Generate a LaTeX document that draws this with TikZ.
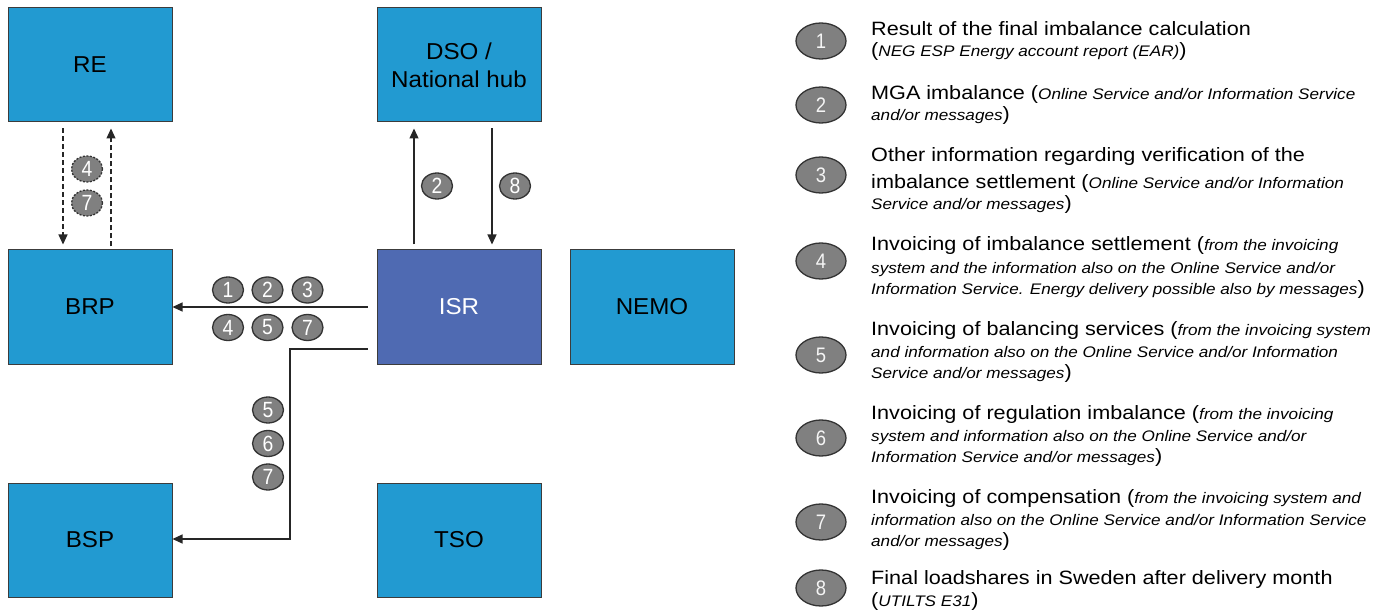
\documentclass[tikz,border=0pt]{standalone}
\usepackage{fontspec}
\setmainfont{Liberation Sans}
\newfontfamily\legfont[FakeStretch=1.12]{Liberation Sans}
\newfontfamily\boxfont[FakeStretch=1.05]{Liberation Sans}
\newfontfamily\digfont[FakeStretch=0.88]{Liberation Sans}
\usetikzlibrary{arrows.meta,shapes.geometric}
\definecolor{boxblue}{RGB}{34,154,209}
\definecolor{isrblue}{RGB}{79,106,178}
\definecolor{edgegray}{RGB}{60,60,60}
\definecolor{badgegray}{RGB}{128,128,128}
\newcommand{\LegMain}{\legfont\fontsize{19.3}{23}\selectfont}
\newcommand{\LegIt}[1]{{\legfont\fontsize{15.3}{18}\selectfont\itshape #1}}
\newcommand{\SmallDigit}{\digfont\fontsize{22}{22}\selectfont}
\newcommand{\BigDigit}{\digfont\fontsize{21}{21}\selectfont}
\tikzset{
  actor/.style={draw=edgegray, line width=1pt, fill=boxblue, minimum width=164pt, minimum height=114pt, inner sep=0pt, align=center, font=\boxfont\fontsize{23}{28}\selectfont},
  badge/.style={shape=ellipse, draw=black!80, line width=1.3pt, fill=badgegray, minimum width=31pt, minimum height=26pt, inner sep=0pt, text=white, node font=\SmallDigit, font=\SmallDigit},
  dbadge/.style={badge, dash pattern=on 2pt off 1.5pt},
  bigbadge/.style={shape=ellipse, draw=black!80, line width=1.3pt, fill=badgegray, minimum width=50pt, minimum height=36pt, inner sep=0pt, text=white!92!gray, node font=\BigDigit, font=\BigDigit},
  flow/.style={draw=black!85, line width=1.2pt, -{Triangle[length=10pt,width=9pt]}},
  dflow/.style={flow, dash pattern=on 5pt off 3pt},
  legline/.style={anchor=base west, inner sep=0pt, font=\LegMain},
}
\begin{document}
\begin{tikzpicture}[x=1pt, y=-1pt]
\useasboundingbox (0,0) rectangle (1391,612);
% actors
\node[actor] (re) at (90,65) {RE};
\node[actor] (dso) at (459,65) {DSO /\\National hub};
\node[actor] (brp) at (90,307) {BRP};
\node[actor, fill=isrblue, text=white] (isr) at (459,307) {ISR};
\node[actor] (nemo) at (652,307) {NEMO};
\node[actor] (bsp) at (90,540) {BSP};
\node[actor] (tso) at (459,540) {TSO};

% RE <-> BRP dashed
\draw[dflow, shorten <=6pt, shorten >=5pt] (re.south -| 63,0) -- (brp.north -| 63,0);
\draw[dflow, shorten <=3pt, shorten >=6pt] (brp.north -| 111,0) -- (re.south -| 111,0);
\node[dbadge] (b4re) at (87,169) {\SmallDigit 4};
\node[dbadge] (b7re) at (87,203) {\SmallDigit 7};

% ISR <-> DSO
\draw[flow, shorten <=5pt, shorten >=6pt] (isr.north -| 414,0) -- (dso.south -| 414,0);
\draw[flow, shorten <=6pt, shorten >=5pt] (dso.south -| 492,0) -- (isr.north -| 492,0);
\node[badge] (b2d) at (437,186) {\SmallDigit 2};
\node[badge] (b8d) at (515,186) {\SmallDigit 8};

% ISR -> BRP
\draw[flow, shorten <=9pt] (isr.west) -- (brp.east);
\node[badge] (r1) at (228,290) {\SmallDigit 1};
\node[badge] (r2) at (267.5,290) {\SmallDigit 2};
\node[badge] (r3) at (307.5,290) {\SmallDigit 3};
\node[badge] (r4) at (228,327.5) {\SmallDigit 4};
\node[badge] (r5) at (267.5,327.5) {\SmallDigit 5};
\node[badge] (r7) at (307.5,327.5) {\SmallDigit 7};

% ISR -> BSP
\coordinate (isrout) at ([xshift=-9pt]isr.west |- 0,349);
\coordinate (bend1) at (290,349);
\coordinate (bend2) at (290,539);
\draw[flow] (isrout) -- (bend1) -- (bend2) -- (bend2 -| bsp.east);
\node[badge] (v5) at (268,410) {\SmallDigit 5};
\node[badge] (v6) at (268,443.5) {\SmallDigit 6};
\node[badge] (v7) at (268,477) {\SmallDigit 7};

% legend
\node[bigbadge] (g1) at (821,41) {\BigDigit 1};
\node[bigbadge] (g2) at (821,105) {\BigDigit 2};
\node[bigbadge] (g3) at (821,175) {\BigDigit 3};
\node[bigbadge] (g4) at (821,261) {\BigDigit 4};
\node[bigbadge] (g5) at (821,355) {\BigDigit 5};
\node[bigbadge] (g6) at (821,438) {\BigDigit 6};
\node[bigbadge] (g7) at (821,522) {\BigDigit 7};
\node[bigbadge] (g8) at (821,588) {\BigDigit 8};

\node[legline] (t1a) at (871,35.5) {Result of the final imbalance calculation};
\node[legline] (t1b) at (871,57) {(\LegIt{NEG ESP Energy account report (EAR)})};

\node[legline] (t2a) at (871,99.5) {MGA imbalance (\LegIt{Online Service and/or Information Service}};
\node[legline] (t2b) at (871,121) {\LegIt{and/or messages})};

\node[legline] (t3a) at (871,161.5) {Other information regarding verification of the};
\node[legline] (t3b) at (871,188.5) {imbalance settlement (\LegIt{Online Service and/or Information}};
\node[legline] (t3c) at (871,210) {\LegIt{Service and/or messages})};

\node[legline] (t4a) at (871,250.5) {Invoicing of imbalance settlement (\LegIt{from the invoicing}};
\node[legline] (t4b) at (871,273) {\LegIt{system and the information also on the Online Service and/or}};
\node[legline] (t4c) at (871,294) {\LegIt{Information Service. Energy delivery possible also by messages})};

\node[legline] (t5a) at (871,335.5) {Invoicing of balancing services (\LegIt{from the invoicing system}};
\node[legline] (t5b) at (871,357) {\LegIt{and information also on the Online Service and/or Information}};
\node[legline] (t5c) at (871,378) {\LegIt{Service and/or messages})};

\node[legline] (t6a) at (871,419.5) {Invoicing of regulation imbalance (\LegIt{from the invoicing}};
\node[legline] (t6b) at (871,441) {\LegIt{system and information also on the Online Service and/or}};
\node[legline] (t6c) at (871,462) {\LegIt{Information Service and/or messages})};

\node[legline] (t7a) at (871,503.5) {Invoicing of compensation (\LegIt{from the invoicing system and}};
\node[legline] (t7b) at (871,525) {\LegIt{information also on the Online Service and/or Information Service}};
\node[legline] (t7c) at (871,546) {\LegIt{and/or messages})};

\node[legline] (t8a) at (871,584.5) {Final loadshares in Sweden after delivery month};
\node[legline] (t8b) at (871,606) {(\LegIt{UTILTS E31})};
\end{tikzpicture}
\end{document}
